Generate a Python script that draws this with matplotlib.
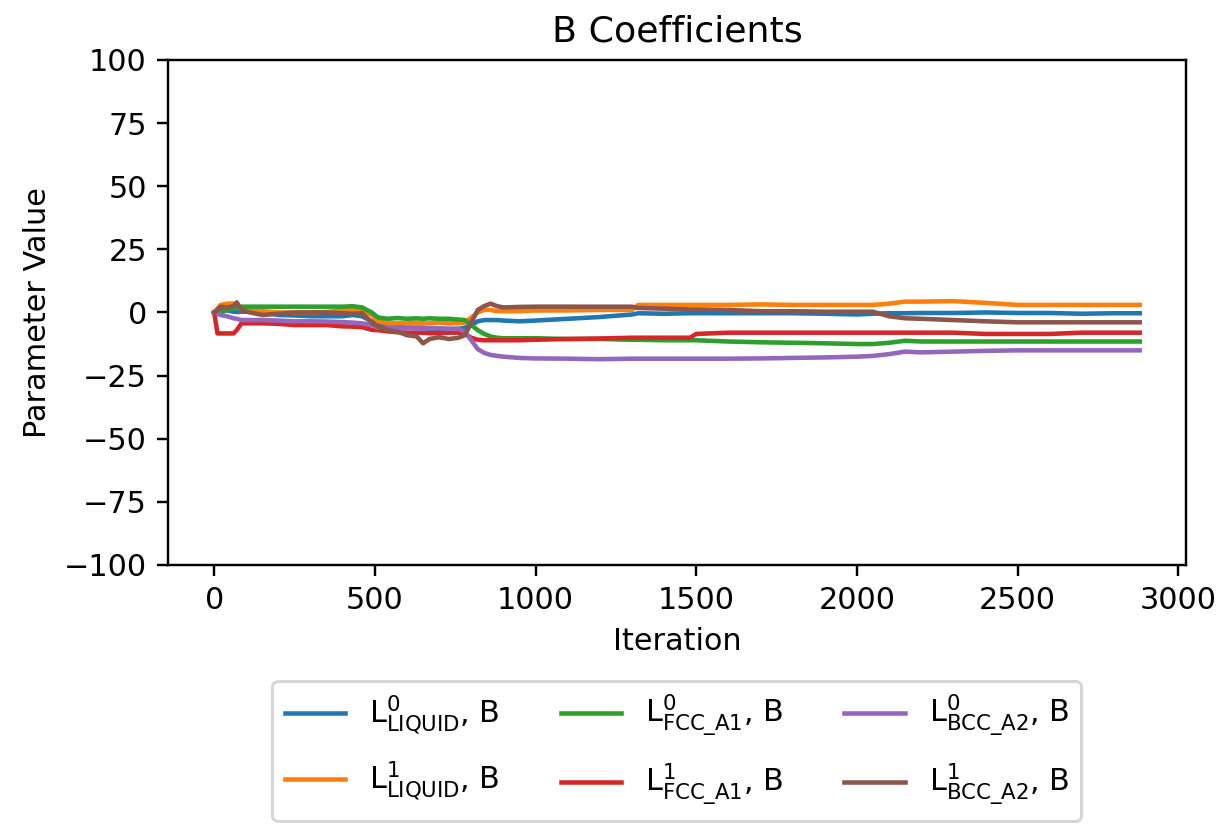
import matplotlib
matplotlib.use("Agg")
import matplotlib.pyplot as plt

iterations = [0, 10, 20, 40, 60, 70, 85, 100, 150, 200, 250, 300, 350, 400, 430, 460, 490, 510,
              540, 570, 600, 630, 650, 670, 700, 730, 760, 780, 800, 820, 840, 860, 880, 900,
              950, 1000, 1100, 1200, 1300, 1320, 1400, 1480, 1500, 1600, 1700, 1800, 1900,
              2000, 2050, 2100, 2150, 2200, 2300, 2400, 2500, 2600, 2700, 2800, 2880]

l0_liquid = [0, 0.5, 1.0, 0.8, 0.3, 0.2, 0.3, 0.3, 0.3, -1.0, -1.2, -1.5, -1.5, -1.5, -1.0, -1.5, -3.5, -4.5,
             -5.0, -5.5, -6.0, -6.0, -6.0, -6.5, -6.5, -6.5, -6.5, -6.0, -5.0, -3.5, -3.0, -3.0, -3.0, -3.2,
             -3.5, -3.2, -2.5, -1.8, -0.8, -0.3, -0.5, -0.3, -0.3, -0.3, -0.3, -0.3, -0.5,
             -0.8, -0.5, -0.3, -0.3, -0.2, -0.2, 0.0, -0.2, -0.2, -0.5, -0.3, -0.3]

l1_liquid = [0, 1.5, 3.0, 3.5, 3.5, 3.0, 1.0, 0.8, 0.5, 0.0, 0.0, 0.0, 0.2, 0.8, 1.0, 0.5, -1.0, -3.5,
             -4.3, -4.3, -4.3, -4.0, -4.3, -4.3, -4.0, -4.3, -4.3, -4.0, -2.0, 0.0, 1.0, 1.0, 0.5, 0.5,
             0.5, 0.8, 0.8, 1.0, 1.0, 3.0, 3.0, 3.0, 3.0, 3.0, 3.2, 3.0, 3.0,
             3.0, 3.0, 3.5, 4.3, 4.3, 4.5, 3.8, 3.0, 3.0, 3.0, 3.0, 3.0]

l0_fcc = [0, -0.5, 0.0, 1.0, 1.5, 2.0, 2.3, 2.3, 2.3, 2.3, 2.3, 2.3, 2.3, 2.3, 2.5, 2.0, 0.0, -2.0,
          -2.5, -2.2, -2.5, -2.3, -2.5, -2.3, -2.5, -2.5, -2.8, -3.0, -5.0, -7.0, -8.5, -9.5, -10.0, -10.2,
          -10.2, -10.2, -10.5, -10.5, -10.8, -10.8, -11.0, -11.0, -11.0, -11.5, -11.8, -12.0, -12.2,
          -12.5, -12.5, -12.0, -11.2, -11.5, -11.5, -11.5, -11.5, -11.5, -11.5, -11.5, -11.5]

l1_fcc = [0, -8.3, -8.3, -8.3, -8.3, -7.0, -4.3, -4.3, -4.3, -4.5, -5.0, -5.0, -5.0, -5.5, -5.6, -5.8, -6.9, -7.0,
          -7.5, -7.8, -8.0, -8.0, -8.0, -8.2, -8.2, -8.0, -8.0, -8.5, -10.0, -10.8, -11.0, -11.0, -11.0, -11.0,
          -11.0, -10.8, -10.5, -10.3, -10.0, -10.0, -10.0, -10.0, -8.5, -8.0, -8.0, -8.0, -8.0,
          -8.0, -8.0, -8.0, -8.0, -8.0, -8.0, -8.5, -8.5, -8.5, -8.0, -8.0, -8.0]

l0_bcc = [0, -0.5, -1.0, -1.5, -2.3, -2.5, -3.0, -3.0, -3.0, -3.2, -3.5, -3.5, -3.6, -3.8, -4.0, -4.3, -5.0, -6.0,
          -6.3, -6.3, -6.3, -6.3, -6.3, -6.3, -6.3, -6.5, -6.5, -7.5, -11.0, -14.5, -16.0, -16.8, -17.2, -17.5,
          -18.0, -18.2, -18.3, -18.5, -18.3, -18.3, -18.3, -18.3, -18.3, -18.3, -18.2, -18.0, -17.8,
          -17.5, -17.2, -16.5, -15.5, -15.8, -15.5, -15.2, -15.0, -15.0, -15.0, -15.0, -15.0]

l1_bcc = [0, 1.0, 2.3, 2.0, 2.5, 4.0, 1.0, 0.3, -1.0, -0.5, 0.0, 0.0, 0.0, -0.3, -0.5, -0.3, -4.0, -5.6,
          -7.0, -7.6, -9.0, -9.5, -12.2, -10.5, -9.8, -10.5, -10.0, -9.0, -4.0, 1.0, 2.5, 3.5, 2.5, 2.0,
          2.2, 2.3, 2.3, 2.3, 2.3, 1.8, 1.5, 1.2, 1.2, 1.0, 0.5, 0.5, 0.3,
          0.3, 0.3, -1.5, -2.3, -2.5, -3.0, -3.5, -3.9, -3.9, -3.9, -3.9, -3.9]

labels = [r"$\mathrm{L}^{0}_{\mathrm{LIQUID}}$, B",
          r"$\mathrm{L}^{1}_{\mathrm{LIQUID}}$, B",
          r"$\mathrm{L}^{0}_{\mathrm{FCC\_A1}}$, B",
          r"$\mathrm{L}^{1}_{\mathrm{FCC\_A1}}$, B",
          r"$\mathrm{L}^{0}_{\mathrm{BCC\_A2}}$, B",
          r"$\mathrm{L}^{1}_{\mathrm{BCC\_A2}}$, B"]
series = [l0_liquid, l1_liquid, l0_fcc, l1_fcc, l0_bcc, l1_bcc]

DPI = 218
fig = plt.figure(figsize=(1218 / DPI, 826 / DPI), dpi=DPI)
ax = fig.add_axes([0.1379, 0.3160, 0.8358, 0.6114])
for vals, lab in zip(series, labels):
    ax.plot(iterations, vals, label=lab)
ax.set_ylim(-100, 100)
ax.set_title("B Coefficients")
ax.set_xlabel("Iteration")
ax.set_ylabel("Parameter Value")
ax.legend(loc="upper center", bbox_to_anchor=(0.5, -0.2), ncol=3,
          labelspacing=0.76)
fig.savefig("out.png", dpi=DPI)
